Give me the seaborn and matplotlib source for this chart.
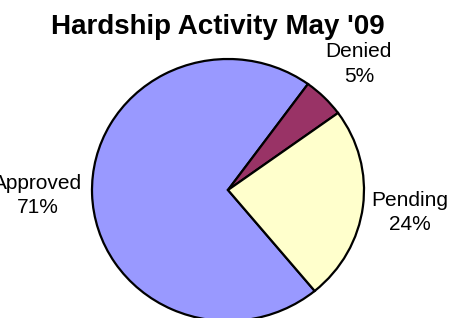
import numpy as np
import matplotlib
matplotlib.use("Agg")
import matplotlib.pyplot as plt
import seaborn as sns

# ─── DATA ────────────────────────────────────────────────────
categories = ["Approved", "Denied", "Pending"]
shares = [71, 5, 24]
colors = ["#9999FF", "#993366", "#FFFFCC"]
title = "Hardship Activity May '09"

# ─── STYLE ───────────────────────────────────────────────────
sns.set_style("white")
plt.rcParams["font.family"] = ["Liberation Sans", "DejaVu Sans"]
plt.rcParams["text.color"] = "black"

fig = plt.figure(figsize=(4.51, 3.18), dpi=100)
ax = fig.add_axes([0, 0, 1, 1])

wedges, texts = ax.pie(
    shares,
    labels=[f"{c}\n{s}%" for c, s in zip(categories, shares)],
    colors=colors,
    startangle=309.6,
    counterclock=False,
    labeldistance=1.36,
    wedgeprops=dict(edgecolor="black", linewidth=1.6),
    textprops=dict(fontsize=15, ha="center", va="center",
                   linespacing=1.35, color="black"),
)

# slightly wider label distance for the big slice (text is clipped at the left edge, as in the original)
label_dist = [1.40, 1.36, 1.35]
for w, t, d in zip(wedges, texts, label_dist):
    mid = np.deg2rad((w.theta1 + w.theta2) / 2)
    t.set_position((d * np.cos(mid), d * np.sin(mid)))

# map the pie into the figure (center ~ (228, 190) px, radius ~136 x 131 px)
ax.set_aspect("auto")
ax.set_xlim(-228 / 136, (451 - 228) / 136)
ax.set_ylim(-(318 - 190) / 131, 190 / 131)
ax.axis("off")

fig.text(218 / 451, 1 - 27 / 318, title, ha="center", va="center",
         fontsize=20, fontweight="bold", color="black")

fig.savefig("out.png", dpi=100)
